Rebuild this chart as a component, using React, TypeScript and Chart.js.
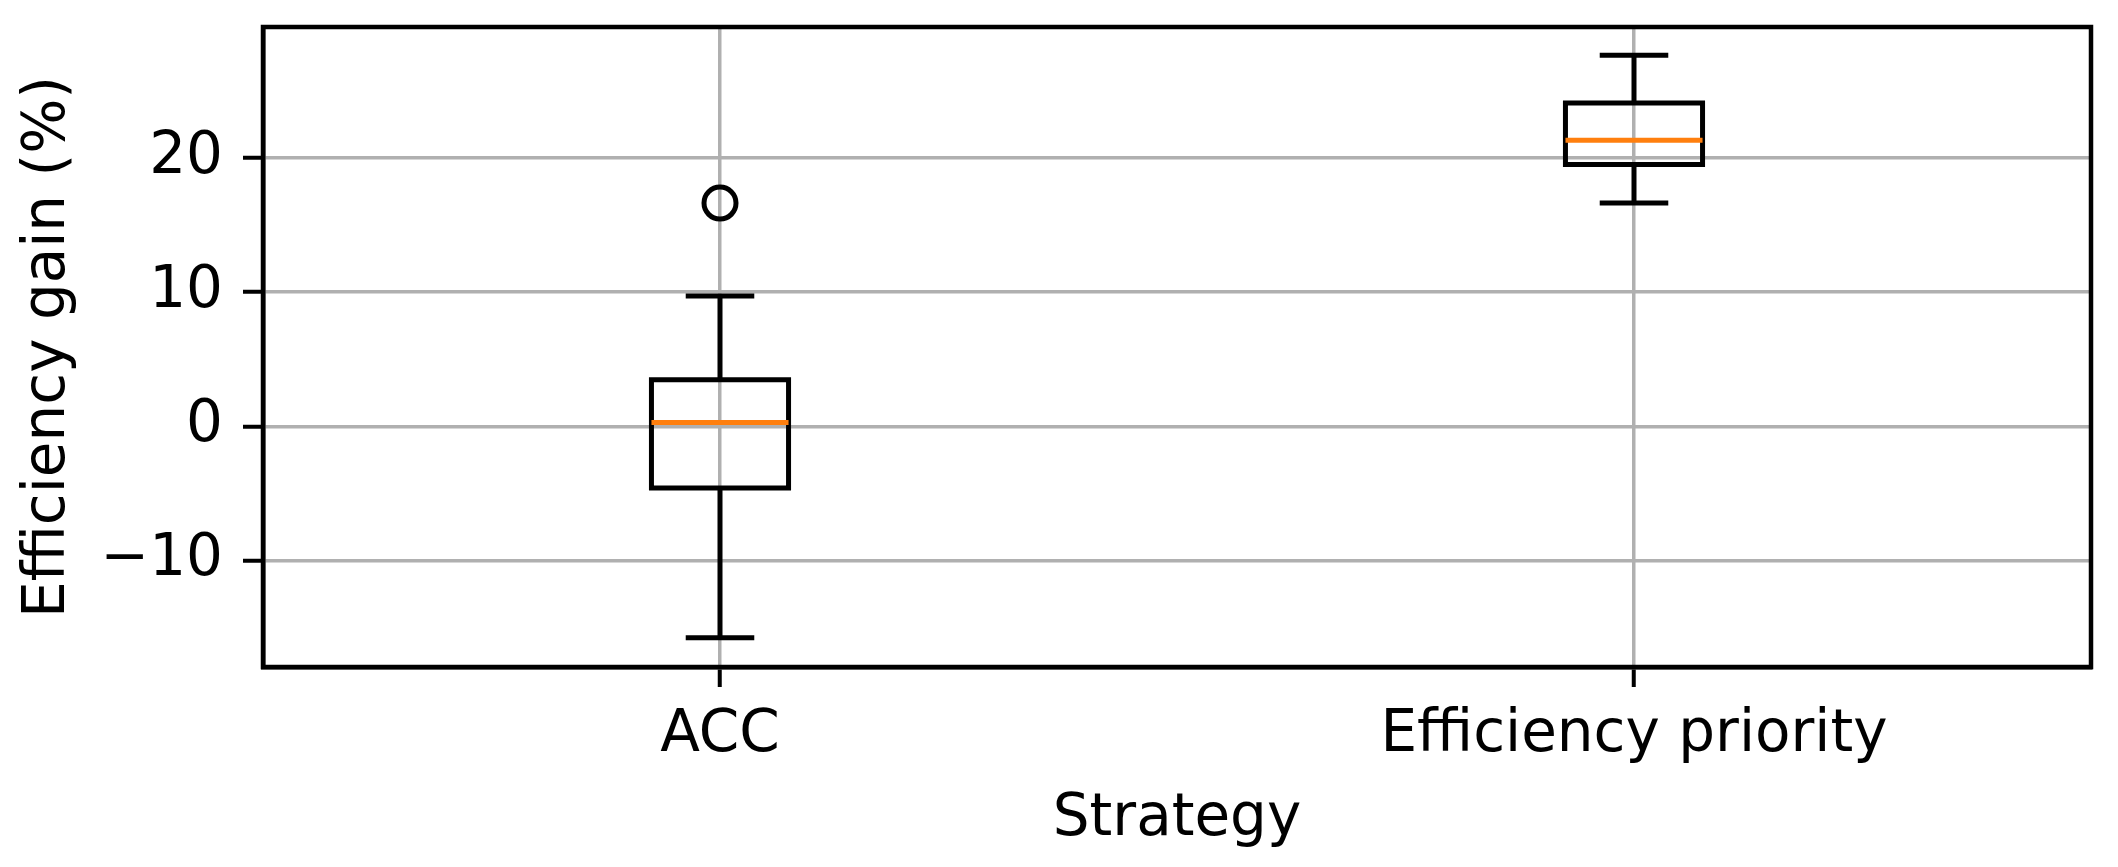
import React, { useEffect, useRef } from "react";
import { Chart, registerables } from "chart.js";

Chart.register(...registerables);

// ---- data ----
const categories = ["ACC", "Efficiency priority"];
const whiskerLow = [-15.76, 16.65];
const q1 = [-4.6, 19.52];
const median = [0.28, 21.33];
const q3 = [3.48, 24.11];
const whiskerHigh = [9.72, 27.67];
const outliers = [[16.65], []];
const yTickValues = [-10, 0, 10, 20];
const yRange = [-17.95, 29.78];

const FONT = "'DejaVu Sans', sans-serif";
const BOX_HALF = 0.075;
const CAP_HALF = 0.0375;

const boxPlugin = {
  id: "boxplotDraw",
  afterDatasetsDraw(chart: any) {
    const { ctx, scales } = chart;
    const xs = scales.x;
    const ys = scales.y;
    ctx.save();
    ctx.lineCap = "butt";
    ctx.lineJoin = "miter";
    categories.forEach((_, i) => {
      const pos = i + 1;
      const xc = xs.getPixelForValue(pos);
      const xl = xs.getPixelForValue(pos - BOX_HALF);
      const xr = xs.getPixelForValue(pos + BOX_HALF);
      const cl = xs.getPixelForValue(pos - CAP_HALF);
      const cr = xs.getPixelForValue(pos + CAP_HALF);
      const yLo = ys.getPixelForValue(whiskerLow[i]);
      const yQ1 = ys.getPixelForValue(q1[i]);
      const yMed = ys.getPixelForValue(median[i]);
      const yQ3 = ys.getPixelForValue(q3[i]);
      const yHi = ys.getPixelForValue(whiskerHigh[i]);
      ctx.strokeStyle = "#000000";
      ctx.lineWidth = 5;
      ctx.beginPath();
      ctx.moveTo(xc, yQ1);
      ctx.lineTo(xc, yLo);
      ctx.moveTo(xc, yQ3);
      ctx.lineTo(xc, yHi);
      ctx.moveTo(cl, yLo);
      ctx.lineTo(cr, yLo);
      ctx.moveTo(cl, yHi);
      ctx.lineTo(cr, yHi);
      ctx.stroke();
      ctx.beginPath();
      ctx.rect(xl, yQ3, xr - xl, yQ1 - yQ3);
      ctx.stroke();
      ctx.strokeStyle = "#ff7f0e";
      ctx.lineWidth = 5;
      ctx.beginPath();
      ctx.moveTo(xl, yMed);
      ctx.lineTo(xr, yMed);
      ctx.stroke();
    });
    ctx.restore();
  },
  afterDraw(chart: any) {
    const { ctx, chartArea } = chart;
    ctx.save();
    ctx.strokeStyle = "#000000";
    ctx.lineWidth = 4.5;
    ctx.strokeRect(
      chartArea.left,
      chartArea.top,
      chartArea.right - chartArea.left,
      chartArea.bottom - chartArea.top
    );
    ctx.restore();
  },
};

export default function App() {
  const canvasRef = useRef<HTMLCanvasElement | null>(null);

  useEffect(() => {
    if (!canvasRef.current) return;
    const outlierPoints: { x: number; y: number }[] = [];
    outliers.forEach((list, i) => list.forEach((v) => outlierPoints.push({ x: i + 1, y: v })));

    const chart = new Chart(canvasRef.current, {
      type: "scatter",
      data: {
        datasets: [
          {
            label: "outliers",
            data: outlierPoints,
            pointStyle: "circle",
            pointRadius: 16,
            pointBorderWidth: 5,
            pointBorderColor: "#000000",
            pointBackgroundColor: "rgba(0,0,0,0)",
            showLine: false,
          },
        ],
      },
      options: {
        animation: false,
        responsive: false,
        devicePixelRatio: 1,
        layout: { padding: { top: 27, right: 27, left: 0, bottom: 0 } },
        plugins: {
          legend: { display: false },
          tooltip: { enabled: false },
        },
        scales: {
          x: {
            type: "linear",
            min: 0.5,
            max: 2.5,
            afterBuildTicks: (scale: any) => {
              scale.ticks = categories.map((_, i) => ({ value: i + 1 }));
            },
            afterFit: (scale: any) => {
              scale.height = 200;
              scale.paddingLeft = 0;
              scale.paddingRight = 0;
            },
            ticks: {
              autoSkip: false,
              maxRotation: 0,
              padding: 14,
              color: "#000000",
              font: { family: FONT, size: 58 },
              callback: (v: any) => categories[Math.round(Number(v)) - 1] ?? "",
            },
            grid: {
              color: "#b0b0b0",
              lineWidth: 3.5,
              drawTicks: true,
              tickLength: 20,
              tickColor: "#000000",
              tickWidth: 4,
            },
            border: { display: true, color: "#000000", width: 4.5 },
            title: {
              display: true,
              text: "Strategy",
              color: "#000000",
              font: { family: FONT, size: 58 },
              padding: { top: 0, bottom: 12 },
            },
          },
          y: {
            type: "linear",
            min: yRange[0],
            max: yRange[1],
            afterBuildTicks: (scale: any) => {
              scale.ticks = yTickValues.map((v) => ({ value: v }));
            },
            afterFit: (scale: any) => {
              scale.width = 263;
              scale.paddingTop = 0;
              scale.paddingBottom = 0;
            },
            ticks: {
              padding: 20,
              color: "#000000",
              font: { family: FONT, size: 58 },
              callback: (v: any) => {
                const n = Number(v);
                return n < 0 ? "\u2212" + Math.abs(n) : String(n);
              },
            },
            grid: {
              color: "#b0b0b0",
              lineWidth: 3.5,
              drawTicks: true,
              tickLength: 20,
              tickColor: "#000000",
              tickWidth: 4,
            },
            border: { display: true, color: "#000000", width: 4.5 },
            title: {
              display: true,
              text: "Efficiency gain (%)",
              color: "#000000",
              font: { family: FONT, size: 58 },
              padding: { top: 14, bottom: 0 },
            },
          },
        },
      },
      plugins: [boxPlugin],
    } as any);

    return () => chart.destroy();
  }, []);

  return (
    <div
      style={{
        position: "absolute",
        left: 0,
        top: 0,
        width: 2118,
        height: 867,
        background: "#ffffff",
      }}
    >
      <canvas ref={canvasRef} width={2118} height={867} style={{ display: "block" }} />
    </div>
  );
}
